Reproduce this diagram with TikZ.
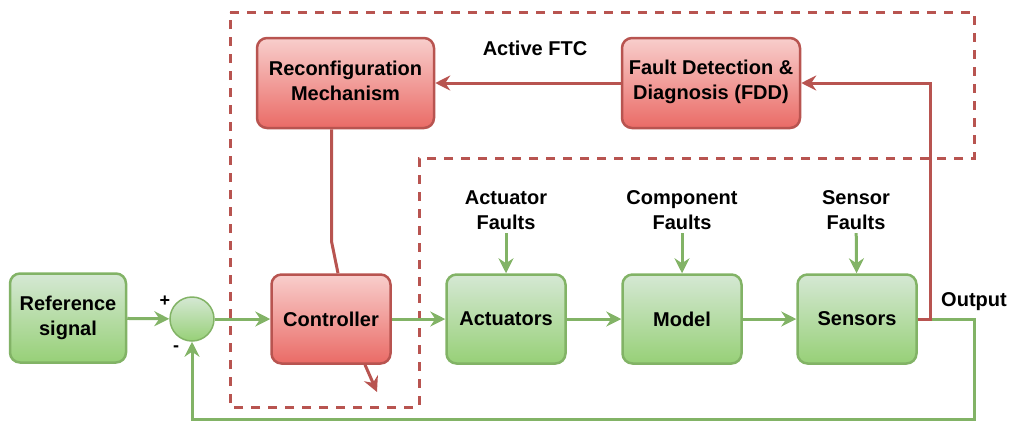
\documentclass[tikz,border=0pt]{standalone}
\usepackage{fontspec}
\setmainfont{Liberation Sans}
\usetikzlibrary{arrows.meta}

\definecolor{gtop}{HTML}{D5E8D4}
\definecolor{gbot}{HTML}{97D077}
\definecolor{gline}{HTML}{82B366}
\definecolor{rtop}{HTML}{F8CECC}
\definecolor{rbot}{HTML}{EA6B66}
\definecolor{rline}{HTML}{B85450}

\tikzset{
	lbl/.style={align=center, font=\fontsize{20}{25}\selectfont\bfseries},
	blk/.style={lbl, rounded corners=10pt, line width=2.5pt, minimum width=119pt, minimum height=89pt},
	gblk/.style={blk, draw=gline, top color=gtop, bottom color=gbot},
	rblk/.style={blk, draw=rline, top color=rtop, bottom color=rbot},
	gconn/.style={draw=gline, line width=3pt, -{Stealth[length=15pt,width=15pt,inset=5pt]}},
	rconn/.style={draw=rline, line width=3pt, -{Stealth[length=15pt,width=15pt,inset=5pt]}},
	ftcbox/.style={draw=rline, line width=3pt, dash pattern=on 9pt off 8pt}
}

\begin{document}
\begin{tikzpicture}[x=1pt, y=-1pt]
			\useasboundingbox (0,0) rectangle (1009,421);
			\draw[ftcbox] (230,12) -- (974,12) -- (974,158) -- (419,158) -- (419,407) -- (230,407) -- cycle;
			\node[lbl] (ftc) at (535,48) {Active FTC};

			\node[gblk, minimum width=116pt] (ref) at (68,318) {Reference\\signal};
			\node[circle, minimum size=44pt, draw=gline, line width=1.5pt, top color=gtop, bottom color=gbot] (sum) at (192,319) {};
			\node[rblk] (ctrl) at (331,319) {Controller};
			\node[gblk] (act) at (506,319) {Actuators};
			\node[gblk] (mod) at (682,319) {Model};
			\node[gblk] (sens) at (857,319) {Sensors};
			\node[rblk, minimum width=177pt, minimum height=90pt, text depth=4pt] (reconf) at (345.5,83) {Reconfiguration\\Mechanism};
			\node[rblk, minimum width=178pt, minimum height=90pt, text depth=6pt] (fdd) at (711,83) {Fault Detection \&\\Diagnosis (FDD)};

			\node[lbl] (actf) at (506,210) {Actuator\\Faults};
			\node[lbl] (modf) at (682,210) {Component\\Faults};
			\node[lbl] (sensf) at (856,210) {Sensor\\Faults};
			\node[lbl] (out) at (974,302) {Output};
			\node[font=\fontsize{18}{20}\selectfont\bfseries] (plus) at (165,301) {+};
			\node[font=\fontsize{18}{20}\selectfont\bfseries] (minus) at (176,349) {-};

			\draw[gconn] (ref) -- (sum);
			\draw[gconn] (sum) -- (ctrl);
			\draw[gconn] (ctrl) -- (act);
			\draw[gconn] (act) -- (mod);
			\draw[gconn] (mod) -- (sens);
			\draw[gconn] (actf) -- (act);
			\draw[gconn] (modf) -- (mod);
			\draw[gconn] (sensf) -- (sens);
			\draw[gconn] (sens.east) -- ++(57,0) -- ++(0,100) -| (sum.south);

			\draw[rconn] (sens.east) -- ++(13,0) |- (fdd.east);
			\draw[rconn] (fdd) -- (reconf);
			\draw[draw=rline, line width=3pt] ([xshift=-14pt]reconf.south) -- ++(0,112) -- ([xshift=7pt]ctrl.north);
			\coordinate (ctrlout) at (377,392);
			\draw[rconn] ([xshift=34pt]ctrl.south) -- (ctrlout);
		\end{tikzpicture}
\end{document}
